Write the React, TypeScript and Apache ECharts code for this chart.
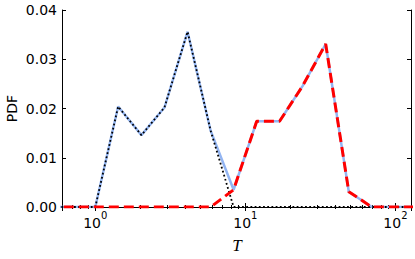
import React, { useEffect, useRef } from 'react';
import * as echarts from 'echarts';

// Bin centres (T)
const tValues = [0.49, 0.70, 1.0, 1.42, 2.03, 2.89, 4.12, 5.87, 8.35, 11.9, 16.9, 24.1, 34.3, 48.9, 69.6, 99.1, 141];
// Total PDF (light blue solid)
const totalPdf = [0, 0, 0, 0.0204, 0.0146, 0.0202, 0.0356, 0.0155, 0.0035, 0.0174, 0.0174, 0.0246, 0.0331, 0.0031, 0, 0, 0];
// First component (black dotted)
const firstPdf = [0, 0, 0, 0.0204, 0.0146, 0.0202, 0.0356, 0.0155, 0, 0, 0, 0, 0, 0, 0, 0, 0];
// Second component (red dashed)
const secondPdf = [0, 0, 0, 0, 0, 0, 0, 0, 0.0035, 0.0174, 0.0174, 0.0246, 0.0331, 0.0031, 0, 0, 0];

const xMin = 0.6;
const xMax = 127;
const yMin = 0;
const yMax = 0.04;
const yStep = 0.01;

const pairs = (ys: number[]) => tValues.map((t, i) => [t, ys[i]]);

export default function App() {
  const ref = useRef<HTMLDivElement>(null);
  useEffect(() => {
    const chart = echarts.init(ref.current!, null, { renderer: 'svg' });
    const font = 'DejaVu Sans';
    const axisLineStyle = { color: '#000', width: 1 };
    const xFormatter = (v: number) => {
      const e = Math.log10(v);
      const r = Math.round(e);
      if (Math.abs(e - r) < 1e-6) return `{b|10}{s|${r}}`;
      return '';
    };
    chart.setOption({
      animation: false,
      backgroundColor: '#fff',
      grid: { left: 62, right: 4, top: 10, bottom: 52, containLabel: false, outerBoundsMode: 'none' },
      xAxis: [
        {
          type: 'log', logBase: 10, min: xMin, max: xMax, position: 'bottom',
          axisLine: { show: true, lineStyle: axisLineStyle },
          axisTick: { show: true, inside: true, length: 4, lineStyle: { color: '#000' } },
          minorTick: { show: true, splitNumber: 9, length: 2, lineStyle: { color: '#000' } },
          splitLine: { show: false },
          minorSplitLine: { show: false },
          axisLabel: {
            show: true, margin: 3, formatter: xFormatter, color: '#000',
            rich: {
              b: { fontFamily: font, fontSize: 14, lineHeight: 20, verticalAlign: 'bottom', color: '#000' },
              s: { fontFamily: font, fontSize: 10, lineHeight: 10, verticalAlign: 'top', color: '#000' },
            },
          },
        },
        {
          type: 'log', logBase: 10, min: xMin, max: xMax, position: 'top',
          axisLine: { show: true, lineStyle: axisLineStyle },
          axisTick: { show: true, inside: true, length: 4, lineStyle: { color: '#000' } },
          minorTick: { show: true, splitNumber: 9, length: 2, lineStyle: { color: '#000' } },
          splitLine: { show: false },
          minorSplitLine: { show: false },
          axisLabel: { show: false },
        },
      ],
      yAxis: [
        {
          type: 'value', min: yMin, max: yMax, interval: yStep, position: 'left',
          axisLine: { show: true, lineStyle: axisLineStyle },
          axisTick: { show: true, inside: true, length: 4, lineStyle: { color: '#000' } },
          splitLine: { show: false },
          axisLabel: {
            show: true, margin: 5, color: '#000', fontFamily: font, fontSize: 14,
            formatter: (v: number) => v.toFixed(2),
          },
        },
        {
          type: 'value', min: yMin, max: yMax, interval: yStep, position: 'right',
          axisLine: { show: true, lineStyle: axisLineStyle },
          axisTick: { show: true, inside: true, length: 4, lineStyle: { color: '#000' } },
          splitLine: { show: false },
          axisLabel: { show: false },
        },
      ],
      graphic: [
        {
          type: 'text', x: 12, y: 108.5, rotation: Math.PI / 2,
          style: { text: 'PDF', fontFamily: font, fontSize: 14, fill: '#000', align: 'center', verticalAlign: 'middle' },
        },
        {
          type: 'text', x: 237, y: 245,
          style: { text: 'T', fontFamily: 'Liberation Serif', fontStyle: 'italic', fontSize: 17, fill: '#000', align: 'center', verticalAlign: 'middle' },
        },
      ],
      series: [
        {
          type: 'line', name: 'total', data: pairs(totalPdf), xAxisIndex: 0, yAxisIndex: 0,
          showSymbol: false, symbol: 'none', clip: true, z: 2,
          lineStyle: { color: '#93b5f2', width: 2.5 },
        },
        {
          type: 'line', name: 'first', data: pairs(firstPdf), xAxisIndex: 0, yAxisIndex: 0,
          showSymbol: false, symbol: 'none', clip: true, z: 3,
          lineStyle: { color: '#000', width: 1.8, type: [1.8, 2.4], cap: 'butt' },
        },
        {
          type: 'line', name: 'second', data: pairs(secondPdf), xAxisIndex: 0, yAxisIndex: 0,
          showSymbol: false, symbol: 'none', clip: true, z: 4,
          lineStyle: { color: '#ff0000', width: 3, type: [10, 5], cap: 'butt' },
        },
      ],
    });
    return () => chart.dispose();
  }, []);
  return <div ref={ref} style={{ position: 'absolute', left: 0, top: 0, width: 415, height: 259 }} />;
}
